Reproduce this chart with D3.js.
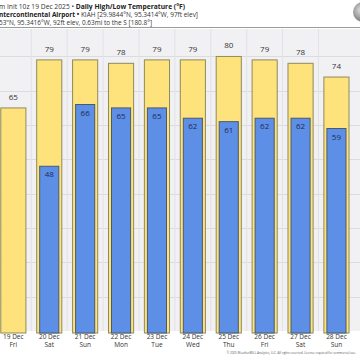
<!DOCTYPE html>
<html><head><meta charset="utf-8">
<script src="https://cdn.jsdelivr.net/npm/d3@7"></script>
<style>html,body{margin:0;padding:0;background:#fff;overflow:hidden}svg{display:block}</style>
</head><body>
<script>
const dates = ["19 Dec","20 Dec","21 Dec","22 Dec","23 Dec","24 Dec","25 Dec","26 Dec","27 Dec","28 Dec"];
const weekdays = ["Fri","Sat","Sun","Mon","Tue","Wed","Thu","Fri","Sat","Sun"];
const highs = [65,79,79,78,79,79,80,79,78,74];
const lows = [null,48,66,65,65,62,61,62,62,59];
const gridTicks = [10,20,30,40,50,60,70,80];

const W=360,H=360;
const svg=d3.select("body").append("svg").attr("width",W).attr("height",H);
const font="'Open Sans', 'DejaVu Sans', sans-serif";

const plotTop=29, plotBottom=331;
const x=d3.scaleBand().domain(dates).range([-4.6,354.4]).paddingInner(0.3).paddingOuter(0.15);
const step=x.step();
const y=d3.scaleLinear().domain([0,88]).range([plotBottom,plotTop]);

svg.append("rect").attr("x",0).attr("y",plotTop).attr("width",W).attr("height",plotBottom-plotTop).attr("fill","#f1f1f4");
svg.append("line").attr("x1",0).attr("x2",W).attr("y1",27.5).attr("y2",27.5).attr("stroke","#9a9a9a").attr("stroke-width",1);

svg.append("g").selectAll("line").data(gridTicks).join("line")
  .attr("x1",0).attr("x2",W).attr("y1",d=>Math.round(y(d))+0.5).attr("y2",d=>Math.round(y(d))+0.5)
  .attr("stroke","#dcdcdf").attr("stroke-width",1);
svg.append("g").selectAll("line").data(dates).join("line")
  .attr("x1",d=>x(d)-(step-x.bandwidth())/2).attr("x2",d=>x(d)-(step-x.bandwidth())/2)
  .attr("y1",plotTop).attr("y2",plotBottom)
  .attr("stroke","#e2e2e6").attr("stroke-width",1);

const bw=x.bandwidth();
const lowW=bw*0.76;
svg.append("g").selectAll("rect").data(dates).join("rect")
  .attr("x",d=>x(d)).attr("y",(d,i)=>y(highs[i])).attr("width",bw)
  .attr("height",(d,i)=>y(0)-y(highs[i])+2)
  .attr("fill","#fee27c").attr("stroke","#8f8a5c").attr("stroke-width",1);
const lowIdx=dates.map((d,i)=>i).filter(i=>lows[i]!==null);
svg.append("g").selectAll("rect").data(lowIdx).join("rect")
  .attr("x",i=>x(dates[i])+(bw-lowW)/2).attr("y",i=>y(lows[i])).attr("width",lowW)
  .attr("height",i=>y(0)-y(lows[i])+2)
  .attr("fill","#5e8fe6").attr("stroke","#4a5a6e").attr("stroke-width",1);

svg.append("g").selectAll("text").data(dates).join("text")
  .attr("x",d=>x(d)+bw/2).attr("y",(d,i)=>y(highs[i])-8)
  .attr("text-anchor","middle").attr("font-family",font).attr("font-size",8)
  .attr("fill","#333").text((d,i)=>highs[i]);
svg.append("g").selectAll("text").data(lowIdx).join("text")
  .attr("x",i=>x(dates[i])+bw/2).attr("y",i=>y(lows[i])+11)
  .attr("text-anchor","middle").attr("font-family",font).attr("font-size",8)
  .attr("fill","#1c2c55").text(i=>lows[i]);

const xl=svg.append("g");
xl.selectAll("text.d").data(dates).join("text").attr("class","d")
  .attr("x",d=>x(d)+bw/2).attr("y",338.5).attr("text-anchor","middle")
  .attr("font-family",font).attr("font-size",6.5).attr("fill","#333").text(d=>d);
xl.selectAll("text.w").data(dates).join("text").attr("class","w")
  .attr("x",d=>x(d)+bw/2).attr("y",346.5).attr("text-anchor","middle")
  .attr("font-family",font).attr("font-size",6.5).attr("fill","#333").text((d,i)=>weekdays[i]);

const hf=6.3;
const t1=svg.append("text").attr("x",-1).attr("y",8.5).attr("font-family",font).attr("font-size",hf).attr("fill","#333")
  .attr("textLength",186).attr("lengthAdjust","spacingAndGlyphs");
t1.append("tspan").text("m Init 10z 19 Dec 2025 • ");
t1.append("tspan").attr("font-weight","bold").attr("fill","#222").text("Daily High/Low Temperature (°F)");
const t2=svg.append("text").attr("x",-1).attr("y",16.5).attr("font-family",font).attr("font-size",hf).attr("fill","#333")
  .attr("textLength",199).attr("lengthAdjust","spacingAndGlyphs");
t2.append("tspan").attr("font-weight","bold").attr("fill","#222").text("ntercontinental Airport •");
t2.append("tspan").text(" KIAH [29.9844°N, 95.3414°W, 97ft elev]");
svg.append("text").attr("x",-1).attr("y",24.5).attr("font-family",font).attr("font-size",hf).attr("fill","#333")
  .attr("textLength",153).attr("lengthAdjust","spacingAndGlyphs")
  .text("53\"N, 95.3416°W, 92ft elev, 0.63mi to the S [180.8°]");

const grad=svg.append("defs").append("radialGradient").attr("id","lg").attr("cx","40%").attr("cy","40%");
grad.append("stop").attr("offset","0%").attr("stop-color","#e0e0e0");
grad.append("stop").attr("offset","100%").attr("stop-color","#8a8a8a");
svg.append("circle").attr("cx",363).attr("cy",12).attr("r",10).attr("fill","url(#lg)");

svg.append("text").attr("x",356).attr("y",354).attr("text-anchor","end").attr("font-family",font).attr("font-size",3.0).attr("fill","#555")
  .text("© 2025 WeatherBELL Analytics, LLC. All rights reserved. License required for commercial use.");
</script>
</body></html>
